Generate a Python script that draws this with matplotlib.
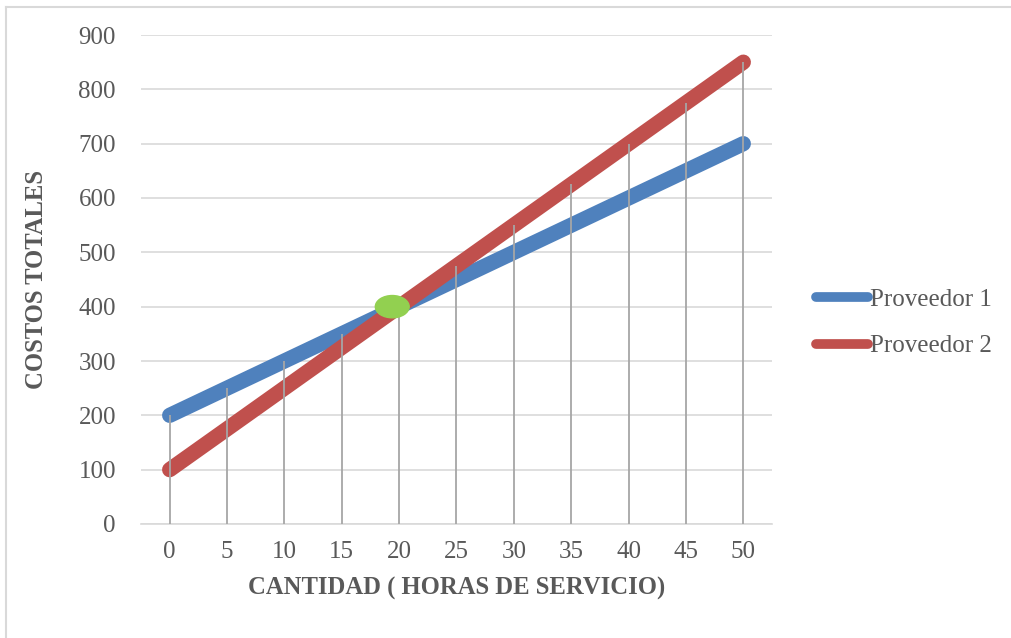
import numpy as np
import matplotlib.pyplot as plt
from matplotlib.patches import Ellipse
from matplotlib.lines import Line2D

# datos del grafico
horas = [0, 5, 10, 15, 20, 25, 30, 35, 40, 45, 50]
proveedor_1 = [200, 250, 300, 350, 400, 450, 500, 550, 600, 650, 700]
proveedor_2 = [100, 175, 250, 325, 400, 475, 550, 625, 700, 775, 850]
y_ticks = [0, 100, 200, 300, 400, 500, 600, 700, 800, 900]
cruce_x, cruce_y = 19.4, 400

azul = '#4F81BD'
rojo = '#C0504D'
verde = '#92D050'
texto = '#595959'

plt.rcParams['font.family'] = ['Liberation Serif', 'DejaVu Serif']

fig = plt.figure(figsize=(10.12, 6.38), dpi=100)
ax = fig.add_axes([141 / 1012, 1 - 524 / 638, (772 - 141) / 1012, (524 - 35) / 638])

# lineas de caida hasta el maximo de cada categoria
maximos = np.maximum(proveedor_1, proveedor_2)
ax.vlines(horas, 0, maximos, color='#A6A6A6', lw=1.3, zorder=4)

ax.plot(horas, proveedor_1, color=azul, lw=11, solid_capstyle='round', zorder=3, label='Proveedor 1')
ax.plot(horas, proveedor_2, color=rojo, lw=11, solid_capstyle='round', zorder=3, label='Proveedor 2')

ax.add_patch(Ellipse((cruce_x, cruce_y), width=2.95, height=41, color=verde, zorder=5))

ax.set_xlim(-2.5, 52.5)
ax.set_ylim(0, 900)
ax.set_xticks(horas)
ax.set_yticks(y_ticks)
ax.grid(axis='y', color='#D9D9D9', lw=1.2)
ax.set_axisbelow(True)
for s in ['top', 'right', 'left']:
    ax.spines[s].set_visible(False)
ax.spines['bottom'].set_color('#D9D9D9')
ax.spines['bottom'].set_linewidth(1.2)
ax.tick_params(length=0, labelsize=18, colors=texto, pad=12)
ax.tick_params(axis='y', pad=18)

ax.set_xlabel('CANTIDAD ( HORAS DE SERVICIO)', fontsize=17.7, fontweight='bold', color=texto, labelpad=10)
ax.set_ylabel('COSTOS TOTALES', fontsize=17.7, fontweight='bold', color=texto, labelpad=22)

handles = [Line2D([], [], color=azul, lw=7, solid_capstyle='round'),
           Line2D([], [], color=rojo, lw=7, solid_capstyle='round')]
fig.legend(handles, ['Proveedor 1', 'Proveedor 2'], loc='center left',
           bbox_to_anchor=(794 / 1012, 1 - 323 / 638), frameon=False,
           fontsize=18, labelcolor=texto, handlelength=2.05, handletextpad=0.1,
           labelspacing=0.95)

# borde del area del grafico
fig.add_artist(Line2D([6.5 / 1012, 6.5 / 1012], [0, 1 - 6.5 / 638], transform=fig.transFigure, color='#D9D9D9', lw=1.5))
fig.add_artist(Line2D([6.5 / 1012, 1], [1 - 6.5 / 638, 1 - 6.5 / 638], transform=fig.transFigure, color='#D9D9D9', lw=1.5))

fig.savefig('out.png', dpi=100)
